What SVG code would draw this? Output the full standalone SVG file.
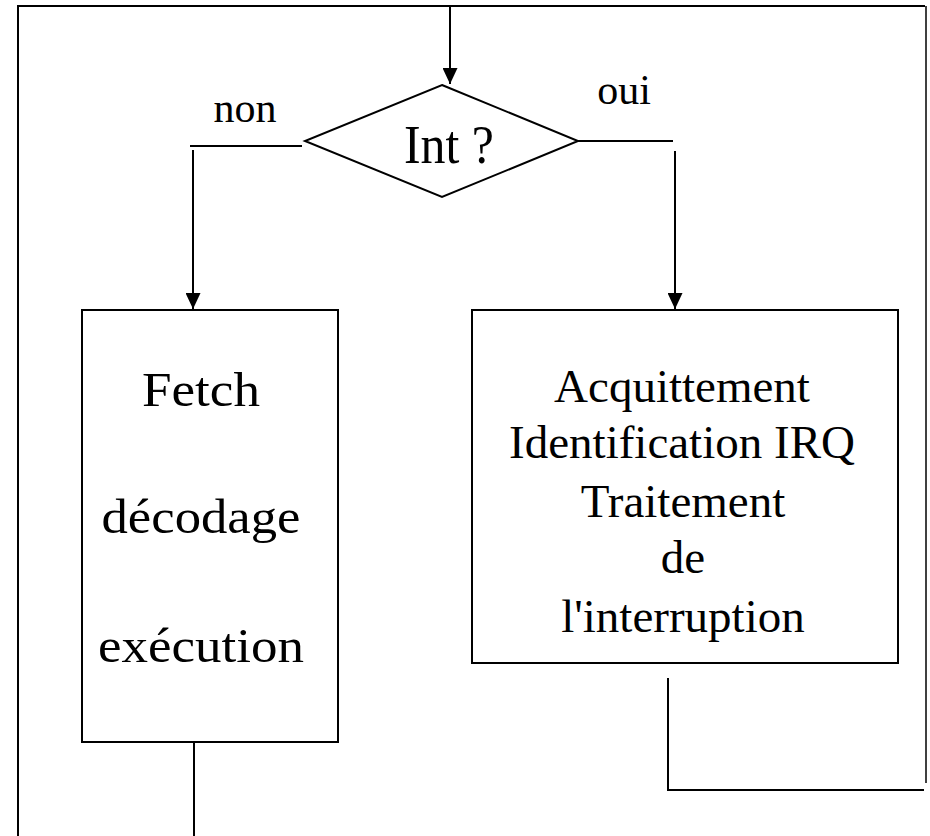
<svg xmlns="http://www.w3.org/2000/svg" width="930" height="836" viewBox="0 0 930 836">
<style>
  .ln { stroke: #000; stroke-width: 2; fill: none; }
  .thin { stroke: #000; stroke-width: 1.5; fill: none; }
  .box { stroke: #000; stroke-width: 2; fill: #fff; }
  text { font-family: "Liberation Serif", "Times New Roman", serif; fill: #000; text-anchor: middle; }
  .lbl { font-size: 42px; }
  .big { font-size: 49px; }
  .rt { font-size: 47px; }
</style>
<defs>
  <marker id="ah" markerUnits="userSpaceOnUse" markerWidth="16" markerHeight="15" refX="16" refY="7.5" orient="auto">
    <path d="M0,0 L16,7.5 L0,15 Z" fill="#000"/>
  </marker>
</defs>
<g id="connectors">
  <!-- outer frame -->
  <polyline class="ln" points="18,836 18,6 925,6"/>
  <line class="thin" x1="926" y1="6" x2="926" y2="783"/>
  <!-- top arrow into decision -->
  <line class="ln" x1="450" y1="6" x2="450" y2="84" marker-end="url(#ah)"/>
  <!-- non branch -->
  <line class="ln" x1="190" y1="146" x2="302" y2="146"/>
  <line class="ln" x1="193" y1="150" x2="193" y2="309" marker-end="url(#ah)"/>
  <!-- oui branch -->
  <line class="ln" x1="578" y1="141" x2="673" y2="141"/>
  <line class="ln" x1="675" y1="151" x2="675" y2="309" marker-end="url(#ah)"/>
  <!-- bottom of left box -->
  <line class="ln" x1="194" y1="742" x2="194" y2="836"/>
  <!-- return from right box -->
  <polyline class="ln" points="668,678 668,790 924,790"/>
</g>
<g id="decision">
  <polygon class="ln" points="442,85 578,141 442,197 305,141" fill="#fff" stroke-width="1.5"/>
  <text x="449" y="163" style="font-size:54px" textLength="90" lengthAdjust="spacingAndGlyphs">Int ?</text>
</g>
<g id="label-non">
  <text class="lbl" x="245" y="122">non</text>
</g>
<g id="label-oui">
  <text class="lbl" x="624" y="104">oui</text>
</g>
<g id="box-fetch">
  <rect class="box" x="82" y="310" width="256" height="432"/>
  <text class="big" x="201" y="406" textLength="118" lengthAdjust="spacingAndGlyphs">Fetch</text>
  <text class="big" x="201" y="533" textLength="199" lengthAdjust="spacingAndGlyphs">décodage</text>
  <text class="big" x="201" y="662" textLength="206" lengthAdjust="spacingAndGlyphs">exécution</text>
</g>
<g id="box-interrupt">
  <rect class="box" x="472" y="310" width="426" height="353"/>
  <text class="rt" x="682" y="402">Acquittement</text>
  <text class="rt" x="682" y="458">Identification IRQ</text>
  <text class="rt" x="683" y="517">Traitement</text>
  <text class="rt" x="683" y="573">de</text>
  <text class="rt" x="683" y="632">l'interruption</text>
</g>
</svg>
